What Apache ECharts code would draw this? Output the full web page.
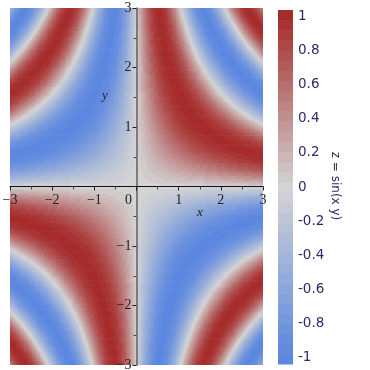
<!DOCTYPE html>
<html><head><meta charset="utf-8">
<script src="https://cdn.jsdelivr.net/npm/echarts@6/dist/echarts.min.js"></script>
<style>html,body{margin:0;padding:0;background:#fff}#c{width:370px;height:370px}</style>
</head><body><div id="c"></div>
<script>
// Surface shown in the reference (its own colour-bar caption): z = sin(x y)
const surfaceLabel = 'z = sin(x y)';
const xRange = [-3, 3];
const yRange = [-3, 3];
const colorbarTicks = [1, 0.8, 0.6, 0.4, 0.2, 0, -0.2, -0.4, -0.6, -0.8, -1];
const colorbarRange = [-1.041, 1.041];
const bandCount = 35;
const gridSteps = 160;
const colLow = [91, 135, 224], colMid = [212, 212, 212], colHigh = [166, 43, 43];

function mix(a, b, t) { return 'rgb(' + a.map((v, i) => Math.round(v + (b[i] - v) * t)).join(',') + ')'; }
function bandColor(k) {
  const w = (colorbarRange[1] - colorbarRange[0]) / bandCount;
  let v = colorbarRange[0] + (k + 0.5) * w;
  v = Math.max(-1, Math.min(1, v));
  return v >= 0 ? mix(colMid, colHigh, v) : mix(colMid, colLow, -v);
}
function bandIndex(z) {
  const w = (colorbarRange[1] - colorbarRange[0]) / bandCount;
  return Math.max(0, Math.min(bandCount - 1, Math.floor((z - colorbarRange[0]) / w)));
}
const bandColors = [];
for (let k = 0; k < bandCount; k++) bandColors.push(bandColor(k));

// cells: [x0, x1, y0, y1, band], merging equal-band horizontal runs
const cells = [];
const dx = (xRange[1] - xRange[0]) / gridSteps, dy = (yRange[1] - yRange[0]) / gridSteps;
for (let j = 0; j < gridSteps; j++) {
  const y = yRange[0] + (j + 0.5) * dy;
  let runStart = 0, runBand = -1;
  for (let i = 0; i <= gridSteps; i++) {
    let b = -2;
    if (i < gridSteps) { const x = xRange[0] + (i + 0.5) * dx; b = bandIndex(Math.sin(x * y)); }
    if (b !== runBand) {
      if (runBand >= 0) cells.push([xRange[0] + runStart * dx, xRange[0] + i * dx, yRange[0] + j * dy, yRange[0] + (j + 1) * dy, runBand]);
      runStart = i; runBand = b;
    }
  }
}
const bands = [];
for (let k = 0; k < bandCount; k++) {
  const w = (colorbarRange[1] - colorbarRange[0]) / bandCount;
  bands.push([colorbarRange[0] + k * w, colorbarRange[0] + (k + 1) * w, k]);
}

const serif = 'Liberation Serif';
const navy = '#2a2a6a';
const chart = echarts.init(document.getElementById('c'), null, { renderer: 'canvas' });
chart.setOption({
  animation: false,
  grid: [
    { left: 10, top: 8, width: 253, height: 357, outerBoundsMode: 'none', containLabel: false },
    { left: 278, top: 10, width: 15, height: 354, outerBoundsMode: 'none', containLabel: false }
  ],
  xAxis: [
    { type: 'value', gridIndex: 0, min: xRange[0], max: xRange[1], interval: 1, z: 10,
      position: 'bottom', offset: -178.5,
      axisLine: { onZero: false, lineStyle: { color: '#111', width: 1.2 } },
      axisTick: { show: true, length: 4, lineStyle: { color: '#222' } },
      minorTick: { show: true, splitNumber: 2, length: 3, lineStyle: { color: '#444' } },
      splitLine: { show: false },
      axisLabel: { fontFamily: serif, fontSize: 14, color: '#222', margin: 7,
        showMinLabel: true, showMaxLabel: true, hideOverlap: false,
        formatter: v => v === 0 ? '{z|0}' : (v < 0 ? '\u2212' + Math.abs(v) : String(v)),
        rich: { z: { fontFamily: serif, fontSize: 14, color: '#222', padding: [0, 16, 0, 0] } } } },
    { type: 'value', gridIndex: 1, min: 0, max: 1, show: false }
  ],
  yAxis: [
    { type: 'value', gridIndex: 0, min: yRange[0], max: yRange[1], interval: 1, z: 10,
      position: 'left', offset: -126.5,
      axisLine: { onZero: false, lineStyle: { color: '#666', width: 1.6 } },
      axisTick: { show: true, length: 4, lineStyle: { color: '#222' } },
      minorTick: { show: true, splitNumber: 2, length: 3, lineStyle: { color: '#444' } },
      splitLine: { show: false },
      axisLabel: { fontFamily: serif, fontSize: 14, color: '#222', margin: 5,
        showMinLabel: true, showMaxLabel: true, hideOverlap: false,
        formatter: v => v === 0 ? '' : (v < 0 ? '\u2212' + Math.abs(v) : String(v)) } },
    { type: 'value', gridIndex: 1, min: colorbarRange[0], max: colorbarRange[1], position: 'right',
      axisLine: { show: false }, axisTick: { show: false }, splitLine: { show: false },
      axisLabel: { customValues: colorbarTicks, fontFamily: 'DejaVu Sans', fontSize: 13.5, color: navy, margin: 5,
        formatter: v => String(Math.round(v * 10) / 10) } }
  ],
  series: [
    { type: 'custom', xAxisIndex: 0, yAxisIndex: 0, data: cells, progressive: 0, silent: true, z: 1,
      clip: true,
      renderItem: (params, api) => {
        const p0 = api.coord([api.value(0), api.value(3)]);
        const p1 = api.coord([api.value(1), api.value(2)]);
        return { type: 'rect', shape: { x: p0[0], y: p0[1], width: p1[0] - p0[0] + 0.6, height: p1[1] - p0[1] + 0.6 },
          style: { fill: bandColors[api.value(4)], stroke: null } };
      } },
    { type: 'custom', xAxisIndex: 1, yAxisIndex: 1, data: bands, silent: true,
      renderItem: (params, api) => {
        const p0 = api.coord([0, api.value(1)]);
        const p1 = api.coord([1, api.value(0)]);
        return { type: 'rect', shape: { x: p0[0], y: p0[1], width: p1[0] - p0[0], height: p1[1] - p0[1] + 0.5 },
          style: { fill: bandColors[api.value(2)], stroke: null } };
      } }
  ],
  graphic: [
    { type: 'text', left: 197, top: 206, style: { text: 'x', font: 'italic 13px "Liberation Serif"', fill: '#222' }, z: 20 },
    { type: 'text', left: 102, top: 89, style: { text: 'y', font: 'italic 13px "Liberation Serif"', fill: '#222' }, z: 20 },
    { type: 'text', x: 335, y: 186, rotation: -Math.PI / 2,
      style: { text: surfaceLabel, font: '12px "DejaVu Sans"', fill: navy, align: 'center', verticalAlign: 'middle' }, z: 20 }
  ]
});
</script></body></html>
